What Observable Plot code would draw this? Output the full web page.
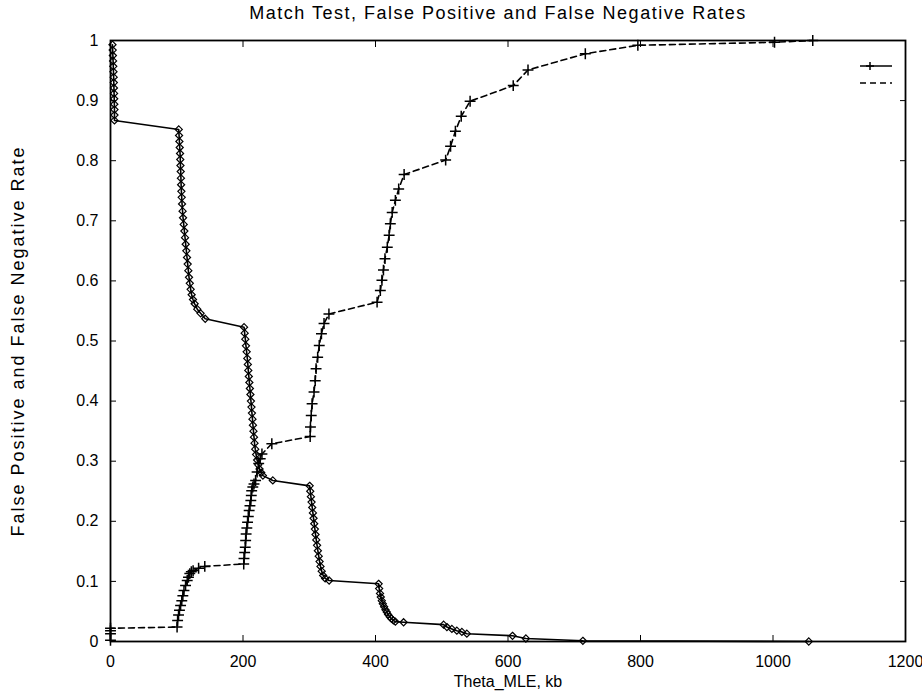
<!DOCTYPE html>
<html><head><meta charset="utf-8">
<script src="https://cdn.jsdelivr.net/npm/d3@7"></script>
<script src="https://cdn.jsdelivr.net/npm/@observablehq/plot@0.6"></script>
<style>body{margin:0;background:#fff}</style>
</head><body><div id="chart"></div>
<script>
const titleText = "Match Test, False Positive and False Negative Rates";
const xLabel = "Theta_MLE, kb";
const yLabel = "False Positive and False Negative Rate";
const xTicks = [0, 200, 400, 600, 800, 1000, 1200];
const yTicks = [0, 0.1, 0.2, 0.3, 0.4, 0.5, 0.6, 0.7, 0.8, 0.9, 1];

// False negative rate (solid, diamonds)
const fnX = [3,3.3,3.6,3.9,4.2,4.5,4.8,5,5.2,5.4,5.6,5.8,6,6,6,
  103,103.5,104,104.5,105,105.3,105.6,106,106.3,106.6,107,107.5,108,108.8,109.5,110.5,111.5,112.5,113.5,114.5,115.5,116.5,117.5,118.5,119.7,121,122.5,124.5,127,131,136,143,
  201.6,202.5,203.5,204.5,205.5,206.5,207.3,208,208.8,209.6,210.4,211.2,212,212.8,213.5,214.3,215,215.8,216.6,217.4,218.5,219.8,221.3,223,225,227.5,230,245,
  300.6,301.5,302.5,303.5,304.5,305.5,306.5,307.5,308.5,309.5,310.6,311.8,313,314.3,315.6,317,318.8,321,324,330,
  404.7,405.5,406.8,408,409.5,411,413,415,417,419,421.5,424,427,430,442.4,
  502.8,507.8,515.3,522.8,530.4,537.9,606.8,627,713,1054];
const fnY = [0.993,0.984,0.975,0.966,0.957,0.948,0.939,0.930,0.921,0.912,0.903,0.894,0.885,0.876,0.867,
  0.852,0.842,0.832,0.822,0.812,0.802,0.792,0.782,0.771,0.760,0.749,0.739,0.728,0.716,0.705,0.694,0.683,0.672,0.661,0.650,0.639,0.628,0.617,0.606,0.596,0.586,0.577,0.569,0.562,0.553,0.546,0.537,
  0.523,0.513,0.503,0.492,0.482,0.471,0.461,0.451,0.441,0.431,0.421,0.411,0.400,0.390,0.380,0.370,0.360,0.350,0.340,0.330,0.320,0.311,0.302,0.294,0.287,0.281,0.276,0.268,
  0.259,0.250,0.241,0.232,0.223,0.214,0.205,0.196,0.187,0.178,0.169,0.160,0.151,0.142,0.133,0.125,0.117,0.110,0.105,0.1015,
  0.096,0.088,0.080,0.074,0.068,0.063,0.058,0.053,0.049,0.045,0.041,0.038,0.035,0.033,0.032,
  0.028,0.024,0.021,0.018,0.016,0.013,0.0095,0.005,0.0012,0];

// False positive rate (dashed, plus)
const fpX = [0,0,0,0,
  100.5,101.3,102.7,104.1,105.8,107.6,109.2,110.9,113.3,115.8,117.7,119.7,122,124.7,133,142.3,201.1,
  201.5,202.5,203.4,204,204.7,205.8,206.9,208,209.3,210.5,211.8,212.5,213.1,214.8,216.6,219,221.3,223.7,226,228.6,243.5,301.4,
  301.8,303,304.3,307.2,309,310.3,312.7,315.1,318.4,322.3,329.7,402.4,
  407.3,409.7,412,414.3,417.8,420.6,422.4,425.2,430,435,443.2,
  505.9,513.3,520.6,529.4,542.8,607.9,630.2,716.7,796,1002.3,1060];
const fpY = [0.002,0.013,0.018,0.022,
  0.024,0.035,0.044,0.052,0.060,0.068,0.076,0.085,0.093,0.1015,0.107,0.113,0.116,0.118,0.122,0.125,0.129,
  0.138,0.148,0.157,0.168,0.179,0.189,0.1985,0.208,0.218,0.226,0.2346,0.243,0.251,0.257,0.262,0.268,0.282,0.296,0.304,0.312,0.329,0.341,
  0.357,0.376,0.3955,0.415,0.434,0.454,0.473,0.4925,0.512,0.529,0.545,0.5646,
  0.584,0.601,0.618,0.637,0.656,0.676,0.695,0.714,0.734,0.753,0.777,
  0.801,0.824,0.849,0.874,0.899,0.925,0.951,0.978,0.992,0.997,1.0];

const fn = fnX.map((x, i) => ({x, y: fnY[i]}));
const fp = fpX.map((x, i) => ({x, y: fpY[i]}));

const W = 922, H = 694, mL = 110, mR = 17, mT = 40, mB = 53;
const font = "'Liberation Sans', Arial, Helvetica, sans-serif";
const yFmt = d => String(+d.toFixed(1));
const xFmt = d => String(d);

const svg = Plot.plot({
  width: W, height: H,
  marginLeft: mL, marginRight: mR, marginTop: mT, marginBottom: mB,
  style: {fontFamily: font, fontSize: "16px", background: "#fff", color: "#000", overflow: "visible"},
  x: {domain: [0, 1200]},
  y: {domain: [0, 1]},
  marks: [
    Plot.frame({stroke: "#000", strokeWidth: 1.8}),
    Plot.axisX(xTicks, {anchor: "bottom", tickSize: -6, tickPadding: 20, label: null, tickFormat: xFmt, fontSize: 16}),
    Plot.axisX(xTicks, {anchor: "top", tickSize: -6, tickFormat: () => "", label: null}),
    Plot.axisY(yTicks, {anchor: "left", tickSize: -6, tickPadding: 18, label: null, tickFormat: yFmt, fontSize: 16}),
    Plot.axisY(yTicks, {anchor: "right", tickSize: -6, tickFormat: () => "", label: null}),
    Plot.line(fn, {x: "x", y: "y", stroke: "#000", strokeWidth: 1.6}),
    Plot.dot(fn, {x: "x", y: "y", symbol: "diamond2", r: 3.2, stroke: "#000", strokeWidth: 1.2, fill: "none"}),
    Plot.line(fp, {x: "x", y: "y", stroke: "#000", strokeWidth: 1.6, strokeDasharray: "6,4"}),
    Plot.dot(fp, {x: "x", y: "y", symbol: "plus", r: 3.6, stroke: "#000", strokeWidth: 1.5}),
    Plot.text([titleText], {frameAnchor: "top", dy: -34, dx: -10, fontSize: 18}),
    Plot.text([xLabel], {frameAnchor: "bottom", dy: 45, fontSize: 16}),
    Plot.text([yLabel], {frameAnchor: "left", dx: -92, rotate: -90, textAnchor: "middle", fontSize: 18})
  ]
});

// wider lettering, as in the scanned original
d3.select(svg).selectAll("text").each(function () {
  const t = this.textContent;
  if (t === titleText) d3.select(this).attr("letter-spacing", "1.5px");
  if (t === yLabel) d3.select(this).attr("letter-spacing", "2px");
});

// legend samples (no labels in the original)
const g = d3.select(svg).append("g").attr("stroke", "#000").attr("stroke-width", 1.5);
const lx1 = W - mR - 45, lx2 = W - mR - 13;
g.append("line").attr("x1", lx1).attr("x2", lx2).attr("y1", mT + 26).attr("y2", mT + 26);
g.append("path").attr("d", `M${lx1 + 10},${mT + 22}v8M${lx1 + 6},${mT + 26}h8`);
g.append("line").attr("x1", lx1).attr("x2", lx2).attr("y1", mT + 43).attr("y2", mT + 43).attr("stroke-dasharray", "6,4");

document.getElementById("chart").appendChild(svg);
</script>
</body></html>
